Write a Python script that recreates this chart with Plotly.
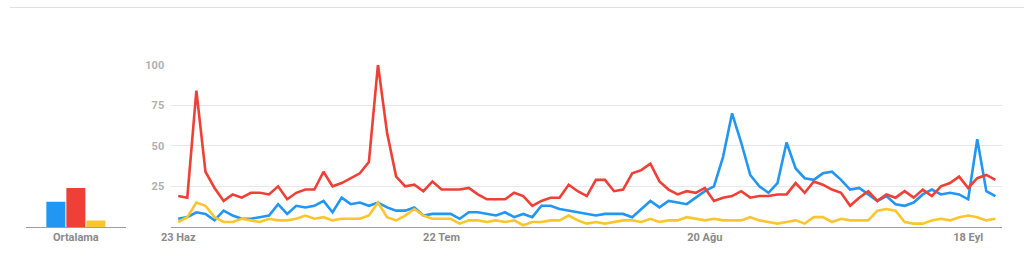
import pandas as pd
import plotly.graph_objects as go

# ---- data ----
start_date = "2020-06-23"
n_days = 91

blue = [5, 6, 9, 8, 4, 10, 7, 5, 5, 6, 7, 14, 8, 13, 12,
        13, 16, 9, 18, 14, 15, 13, 15, 12, 10, 10, 12, 7, 8, 8,
        8, 5, 9, 9, 8, 7, 9, 6, 8, 6, 13, 13, 11, 10, 9, 8,
        7, 8, 8, 8, 6, 11, 16, 12, 16, 15, 14, 18, 22, 25,
        43, 70, 52, 32, 25, 21, 27, 52, 36, 30, 29, 33, 34, 29,
        23, 24, 20, 16, 19, 14, 13, 15, 20, 23, 20, 21, 20, 17, 54, 22, 19]

red = [19, 18, 84, 34, 24, 16, 20, 18, 21, 21, 20, 25, 17, 21, 23, 23, 34, 25, 27, 30, 33, 40, 100,
       58, 31, 25, 26, 22, 28, 23, 23, 23, 24, 20, 17, 17, 17, 21, 19, 13, 16, 18, 18, 26, 22, 19,
       29, 29, 22, 23, 33, 35, 39, 28, 23, 20, 22, 21,
       24, 16, 18, 19, 22, 18, 19, 19, 20, 20, 27, 21, 28, 26, 23, 21, 13, 18, 22, 16, 20, 18, 22,
       18, 23, 19, 25, 27, 31, 24, 30, 32, 29]

yellow = [3, 6, 15, 13, 6, 3, 3, 5, 4, 3, 5, 4, 4, 5, 7, 5, 6, 4, 5, 5, 5, 7, 15, 6, 4, 7, 11, 7,
          5, 5, 5, 2, 4, 4, 3, 4, 3, 4, 1, 3, 3, 4, 4, 7, 4, 2, 3, 2, 3, 4, 4, 3, 5, 3, 4, 4, 6, 5, 4, 5, 4,
          4, 4, 6, 4, 3, 2, 3, 4, 2, 6, 6, 3, 5, 4, 4, 4, 10, 11, 10, 3, 2, 2, 4, 5, 4, 6, 7, 6, 4, 5]

avg_label = ["Ortalama"]
avg_blue = [15.5]
avg_red = [24]
avg_yellow = [4]

y_tick_vals = [25, 50, 75, 100]
x_tick_dates = ["2020-06-23", "2020-07-22", "2020-08-20", "2020-09-18"]
x_tick_text = ["23 Haz", "22 Tem", "20 Ağu", "18 Eyl"]

colors = {"blue": "#2196F3", "red": "#EE4036", "yellow": "#FBC52D"}

dates = pd.date_range(start_date, periods=n_days, freq="D")

fig = go.Figure()

# average bars
for vals, c in [(avg_blue, "blue"), (avg_red, "red"), (avg_yellow, "yellow")]:
    fig.add_trace(go.Bar(x=avg_label, y=vals, marker=dict(color=colors[c], line_width=0),
                         xaxis="x", yaxis="y", showlegend=False, hoverinfo="skip"))

# lines
for vals, c in [(blue, "blue"), (red, "red"), (yellow, "yellow")]:
    fig.add_trace(go.Scatter(x=dates, y=vals, mode="lines",
                             line=dict(color=colors[c], width=2.6),
                             xaxis="x2", yaxis="y2", showlegend=False))

W, H = 1024, 265
pad = pd.Timedelta(hours=18)
ydom = [39 / H, 205 / H]
label_font = dict(family="Roboto", size=11, color="#8a8a8a", weight="bold")

fig.update_layout(
    width=W, height=H,
    margin=dict(l=0, r=0, t=0, b=0),
    paper_bgcolor="white", plot_bgcolor="white",
    barmode="group", bargap=0.4, bargroupgap=0.05,
    xaxis=dict(domain=[16 / W, 117 / W], showgrid=False, showline=True,
               linecolor="#9e9e9e", linewidth=1, ticks="", tickfont=label_font,
               fixedrange=True),
    yaxis=dict(domain=ydom, range=[0, 100], showgrid=False, showticklabels=False,
               zeroline=False, fixedrange=True),
    xaxis2=dict(domain=[163 / W, 1002 / W], anchor="y2", type="date",
                range=[dates[0] - pad, dates[-1] + pad],
                tickvals=pd.to_datetime(x_tick_dates), ticktext=x_tick_text,
                showgrid=False, showline=True, linecolor="#9e9e9e", linewidth=1,
                ticks="", tickfont=label_font, fixedrange=True),
    yaxis2=dict(domain=ydom, range=[0, 100], anchor="x2",
                tickvals=y_tick_vals, showgrid=True, gridcolor="#e8e8e8", gridwidth=1,
                zeroline=False, ticks="outside", ticklen=4, tickcolor="rgba(0,0,0,0)",
                tickfont=dict(family="Roboto", size=11, color="#b0b0b0", weight="bold"),
                fixedrange=True),
    shapes=[dict(type="line", xref="paper", yref="paper", x0=0, x1=1,
                 y0=1 - 1.5 / H, y1=1 - 1.5 / H,
                 line=dict(color="#e0e0e0", width=1))],
)

fig.write_html("out.html", config={"displayModeBar": False})
